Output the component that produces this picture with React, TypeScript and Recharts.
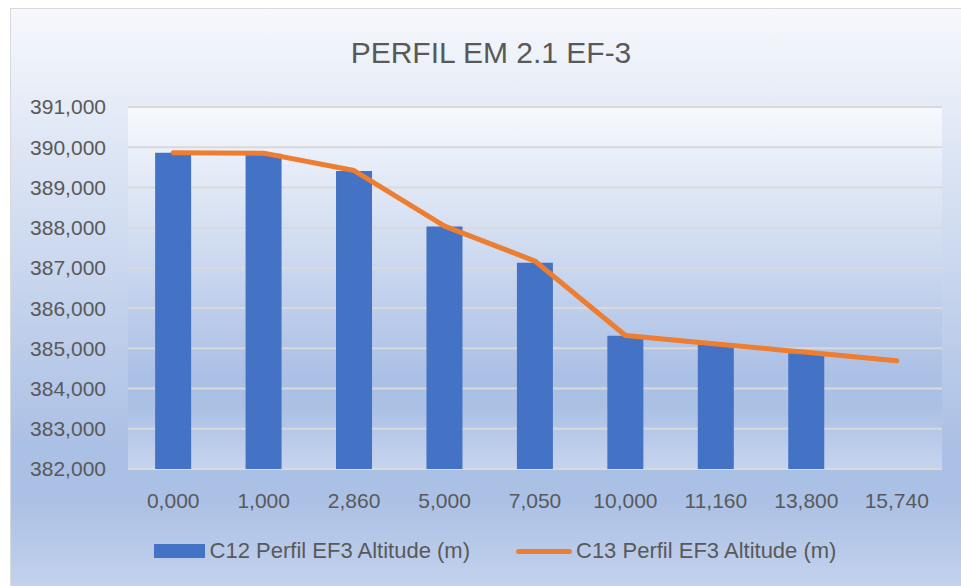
import {
  ComposedChart,
  Bar,
  Line,
  XAxis,
  YAxis,
  CartesianGrid,
  Legend
} from 'recharts';

const categories = ['0,000', '1,000', '2,860', '5,000', '7,050', '10,000', '11,160', '13,800', '15,740'];
const c12Altitude = [389860, 389840, 389410, 388030, 387130, 385310, 385080, 384880, null];
const c13Altitude = [389860, 389850, 389420, 388040, 387170, 385320, 385110, 384900, 384690];
const yTicks = [382000, 383000, 384000, 385000, 386000, 387000, 388000, 389000, 390000, 391000];

const C12 = 'C12 Perfil EF3 Altitude (m)';
const C13 = 'C13 Perfil EF3 Altitude (m)';

const data = categories.map((name, i) => ({
  name,
  [C12]: c12Altitude[i],
  [C13]: c13Altitude[i]
}));

const FONT = '"Liberation Sans", Arial, sans-serif';
const TEXT = '#595959';

function yFormatter(value: number) {
  return value.toLocaleString('en-US');
}

function LegendBox() {
  return (
    <div
      style={{
        display: 'flex',
        justifyContent: 'center',
        alignItems: 'center',
        fontFamily: FONT,
        fontSize: 22,
        color: TEXT,
        height: 24,
        paddingLeft: 8
      }}
    >
      <span style={{ width: 51, height: 14, background: '#4472C4', marginRight: 5 }} />
      <span>{C12}</span>
      <span
        style={{ width: 56, height: 5, borderRadius: 3, background: '#ED7D31', marginLeft: 46, marginRight: 4 }}
      />
      <span>{C13}</span>
    </div>
  );
}

export default function App() {
  return (
    <div
      style={{
        position: 'fixed',
        left: 10,
        top: 8,
        width: 960,
        height: 590,
        border: '1px solid #d9d9d9',
        background: 'linear-gradient(180deg, #f6f8fc 0%, #abc0e5 74%, #abc0e5 83%, #c6d4ee 100%)'
      }}
    >
      <div
        style={{
          position: 'absolute',
          top: 29,
          left: 0,
          width: 960,
          textAlign: 'center',
          fontFamily: FONT,
          fontSize: 30,
          lineHeight: '30px',
          color: TEXT
        }}
      >
        PERFIL EM 2.1 EF-3
      </div>
      <ComposedChart
        width={960}
        height={590}
        data={data}
        margin={{ top: 98, right: 29, bottom: 70, left: 0 }}
        barCategoryGap='30%'
      >
        <defs>
          <linearGradient id='plotGrad' x1='0' y1='0' x2='0' y2='1'>
            <stop offset='0%' stopColor='#f7f9fd' />
            <stop offset='74%' stopColor='#abc0e5' />
            <stop offset='83%' stopColor='#abc0e5' />
            <stop offset='100%' stopColor='#c6d4ee' />
          </linearGradient>
        </defs>
        <CartesianGrid vertical={false} stroke='#d9d9d9' strokeWidth={2} fill='url(#plotGrad)' fillOpacity={1} />
        <XAxis
          dataKey='name'
          axisLine={false}
          tickLine={false}
          tickSize={0}
          tickMargin={24}
          height={60}
          interval={0}
          tick={{ fill: TEXT, fontSize: 21, fontFamily: FONT }}
        />
        <YAxis
          domain={[382000, 391000]}
          ticks={yTicks}
          tickFormatter={yFormatter}
          axisLine={false}
          tickLine={false}
          tickSize={0}
          tickMargin={22}
          width={117}
          tick={{ fill: TEXT, fontSize: 21, fontFamily: FONT }}
        />
        <Bar dataKey={C12} fill='#4472C4' isAnimationActive={false} />
        <Line
          type='linear'
          dataKey={C13}
          stroke='#ED7D31'
          strokeWidth={5}
          strokeLinecap='round'
          strokeLinejoin='round'
          dot={false}
          activeDot={false}
          isAnimationActive={false}
        />
        <Legend
          layout='horizontal'
          verticalAlign='middle'
          align='center'
          wrapperStyle={{ top: 530, left: 0, width: 960 }}
          content={() => <LegendBox />}
        />
      </ComposedChart>
    </div>
  );
}
